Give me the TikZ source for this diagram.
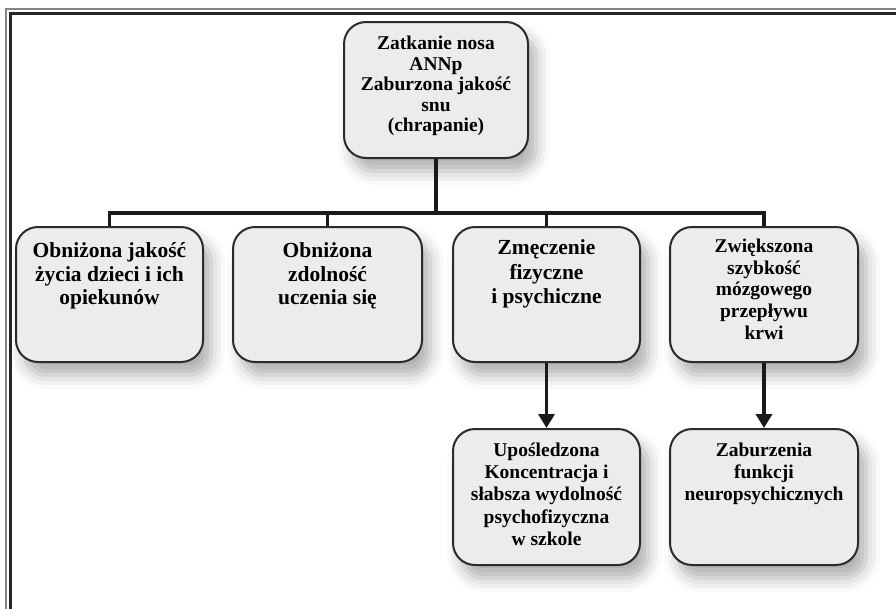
\documentclass[tikz,border=0pt]{standalone}
\usepackage{fontspec}
\setmainfont{Liberation Serif}
\usetikzlibrary{shadows.blur,arrows.meta}
\definecolor{boxfill}{HTML}{ECECEE}
\definecolor{boxline}{HTML}{2B2B2B}
\definecolor{framegray}{HTML}{858585}
\definecolor{framedark}{HTML}{262626}
\definecolor{connline}{HTML}{1A1A1A}
\newcommand{\bxt}[6]{\parbox[c][#2pt][t]{#1pt}{\centering\fontsize{#3}{#4}\selectfont\bfseries\vspace*{#5pt}#6\par}}
\begin{document}
\begin{tikzpicture}[x=1pt,y=-1pt,
  bx/.style={draw=boxline, fill=boxfill, line width=2pt, rounded corners=22pt, inner sep=0pt,
    blur shadow={shadow xshift=8pt, shadow yshift=-13pt, shadow blur radius=14pt, shadow opacity=32}},
  conn/.style={draw=connline, line width=3.5pt},
  arr/.style={draw=connline, line width=3.5pt, -{Triangle[length=14pt,width=16pt]}}]
\useasboundingbox (0,0) rectangle (896,608);
% frame
\draw[framegray, line width=2pt] (6,620) -- (6,9) -- (910,9);
\draw[framedark, line width=3pt] (10,620) -- (10,13.5) -- (910,13.5);
% boxes
\node[bx, minimum width=184pt, minimum height=136pt] (top) at (436,90)
  {\bxt{178}{136}{19.5}{20.5}{14}{Zatkanie nosa\\ ANNp\\ Zaburzona jakość\\ snu\\ (chrapanie)}};
\node[bx, minimum width=187pt, minimum height=135pt] (b1) at (109.5,294.5)
  {\bxt{183}{135}{21.5}{23.5}{16}{Obniżona jakość\\ życia dzieci i ich\\ opiekunów}};
\node[bx, minimum width=189pt, minimum height=135pt] (b2) at (327.5,294.5)
  {\bxt{183}{135}{21.5}{23.5}{16}{Obniżona\\ zdolność\\ uczenia się}};
\node[bx, minimum width=187pt, minimum height=135pt] (b3) at (546.5,294.5)
  {\bxt{183}{135}{21.5}{24.5}{13}{Zmęczenie\\ fizyczne\\ i psychiczne}};
\node[bx, minimum width=188pt, minimum height=135pt] (b4) at (764,294.5)
  {\bxt{183}{135}{19.5}{21.7}{12}{Zwiększona\\ szybkość\\ mózgowego\\ przepływu\\ krwi}};
\node[bx, minimum width=187pt, minimum height=136pt] (b5) at (546.5,497)
  {\bxt{183}{136}{19.5}{22.2}{14}{Upośledzona\\ Koncentracja i\\ słabsza wydolność\\ psychofizyczna\\ w szkole}};
\node[bx, minimum width=188pt, minimum height=136pt] (b6) at (764,497)
  {\bxt{183}{136}{19.5}{22.2}{14}{Zaburzenia\\ funkcji\\ neuropsychicznych}};
% connectors
\coordinate (bus) at (0,213);
\draw[conn] (top.south) -- (top.south |- bus);
\draw[conn, line join=miter] (b1.north) -- (b1.north |- bus) -- (b4.north |- bus) -- (b4.north);
\draw[conn] (b2.north) -- (b2.north |- bus);
\draw[conn] (b3.north) -- (b3.north |- bus);
\draw[arr] (b3.south) -- (b5.north);
\draw[arr] (b4.south) -- (b6.north);
\end{tikzpicture}
\end{document}
